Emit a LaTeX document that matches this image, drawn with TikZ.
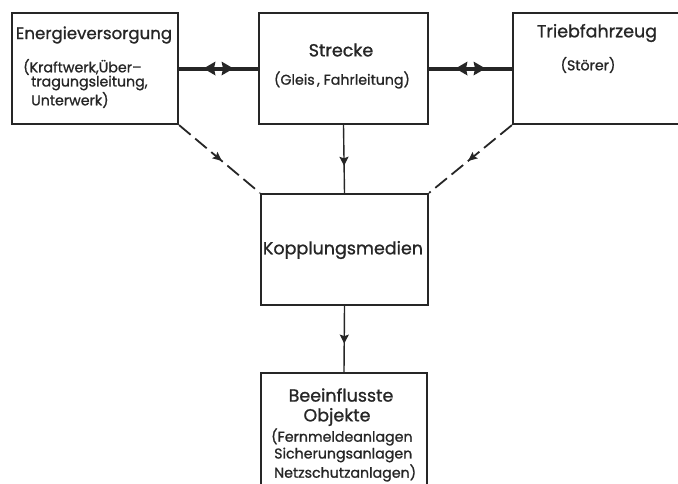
\documentclass[tikz,border=0pt]{standalone}
\usepackage{fontspec}
\setmainfont{Poppins}[FakeBold=1.0]
\usetikzlibrary{decorations.markings,arrows.meta}
\begin{document}
\begin{tikzpicture}[x=1pt,y=-1pt,
  box/.style={draw=black!85,line width=2.2pt,inner sep=0pt},
  ttl/.style={inner sep=0pt,font=\fontsize{17.5}{20}\selectfont,text=black!85},
  sub/.style={inner sep=0pt,font=\fontsize{14.2}{16}\selectfont,text=black!85},
  thick link/.style={line width=4pt,draw=black!85,
    postaction={decorate,decoration={markings,mark=at position 0.5 with {
      \fill[black!85] (-15pt,0pt) -- (-3pt,7pt) -- (-4.5pt,0pt) -- (-3pt,-7pt) -- cycle;
      \fill[black!85] (15pt,0pt) -- (3pt,7pt) -- (4.5pt,0pt) -- (3pt,-7pt) -- cycle;}}}},
  flow/.style={line width=1.4pt,draw=black!85,
    postaction={decorate,decoration={markings,mark=at position #1 with {
      \arrow{Stealth[length=9pt,width=9pt,inset=1.5pt]}}}}},
  flow/.default=0.58,
  dlink/.style={line width=1.8pt,draw=black!85,dash pattern=on 15pt off 6pt,
    postaction={decorate,decoration={markings,mark=at position 0.53 with {
      \arrow{Stealth[length=9pt,width=8pt,inset=1.5pt]}}}}}
]
\useasboundingbox (0,0) rectangle (678,483);
\clip (0,0) rectangle (678,483);
% boxes
\node[box,minimum width=166pt,minimum height=111pt] (E) at (95,68.5) {};
\node[box,minimum width=169pt,minimum height=111pt] (S) at (343.5,68.5) {};
\node[box,minimum width=187pt,minimum height=111pt] (T) at (606.5,68.5) {};
\node[box,minimum width=167pt,minimum height=111pt] (K) at (344.5,249.5) {};
\node[box,minimum width=166pt,minimum height=124pt] (B) at (344,435) {};
% texts
\node[ttl,font=\fontsize{16.6}{20}\selectfont] (Et) at (94,35) {Energieversorgung};
\node[sub,anchor=west] (Es1) at (23,67) {(Kraftwerk,Über--};
\node[sub,anchor=west] (Es2) at (31,83) {tragungsleitung,};
\node[sub,anchor=west] (Es3) at (31,100) {Unterwerk)};
\node[ttl] (St) at (341,50) {Strecke};
\node[sub] (Ss) at (342,80) {(Gleis\,, Fahrleitung)};
\node[ttl] (Tt) at (597,33) {Triebfahrzeug};
\node[sub] (Ts) at (588,65) {(Störer)};
\node[ttl] (Kt) at (343,250) {Kopplungsmedien};
\node[ttl] (Bt1) at (341,395) {Beeinflusste};
\node[ttl] (Bt2) at (337,417) {Objekte};
\node[sub,anchor=west] (Bs1) at (271,437) {(Fernmeldeanlagen};
\node[sub,anchor=west] (Bs2) at (274,455) {Sicherungsanlagen};
\node[sub,anchor=west] (Bs3) at (274,473) {Netzschutzanlagen)};
% connectors
\draw[thick link] (E.east) -- (S.west);
\draw[thick link] (S.east) -- (T.west);
\draw[flow=0.6] (S.south) -- (K.north);
\draw[flow=0.57] (K.south) -- (B.north);
\draw[dlink] (E.south east) -- (K.north west);
\draw[dlink] (T.south west) -- (K.north east);
\end{tikzpicture}
\end{document}
